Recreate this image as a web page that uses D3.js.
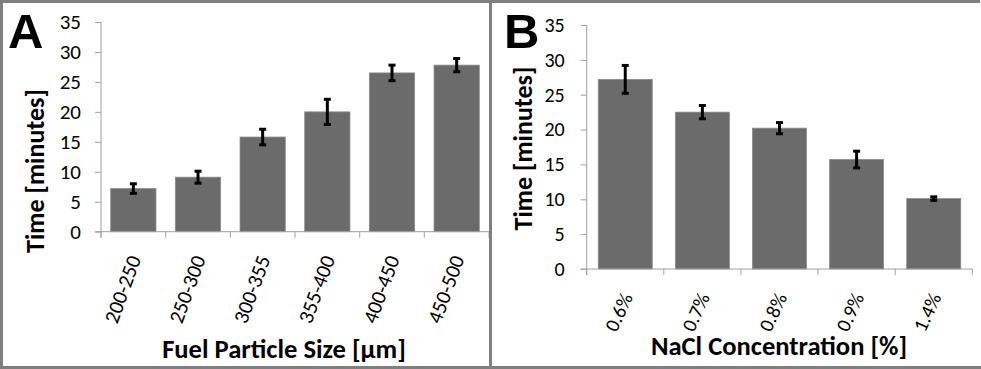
<!DOCTYPE html>
<html>
<head>
<meta charset="utf-8">
<script src="https://cdn.jsdelivr.net/npm/d3@7"></script>
<style>
  body { margin: 0; background: #fff; }
  svg { display: block; }
</style>
</head>
<body>
<div id="chart"></div>
<script>
// panel A: fuel particle size
var sizeCats = ["200-250", "250-300", "300-355", "355-400", "400-450", "450-500"];
var sizeTimes = [7.2, 9.1, 15.8, 20.0, 26.5, 27.8];
var sizeErrs = [0.8, 1.0, 1.3, 2.1, 1.3, 1.1];

// panel B: NaCl concentration
var naclCats = ["0.6%", "0.7%", "0.8%", "0.9%", "1.4%"];
var naclTimes = [27.2, 22.5, 20.2, 15.7, 10.1];
var naclErrs = [2.0, 0.95, 0.8, 1.2, 0.25];

var yTicks = [0, 5, 10, 15, 20, 25, 30, 35];

var width = 981, height = 369;
var axisColor = "#a0a0a0";
var font = "Carlito, Calibri, 'Open Sans', sans-serif";

var svg = d3.select("#chart").append("svg")
  .attr("width", width)
  .attr("height", height);

function drawPanel(p) {
  var g = svg.append("g");

  var x = d3.scaleBand()
    .domain(p.cats)
    .range([p.left, p.right])
    .paddingInner(0.3)
    .paddingOuter(0.15);

  var y = d3.scaleLinear()
    .domain([0, 35])
    .range([p.bottom, p.top]);

  // bars
  g.selectAll("rect.bar").data(p.vals).enter()
    .append("rect")
      .attr("class", "bar")
      .attr("x", function(d, i) { return x(p.cats[i]); })
      .attr("y", function(d) { return y(d); })
      .attr("width", x.bandwidth())
      .attr("height", function(d) { return y(0) - y(d); })
      .attr("fill", "#6b6b6b")
      .attr("stroke", "#8a8a8a")
      .attr("stroke-width", 0.8);

  // y axis
  var yAxis = d3.axisLeft(y).tickValues(yTicks).tickSize(6).tickPadding(p.tickPad);
  var ya = g.append("g").attr("transform", "translate(" + p.left + ",0)").call(yAxis);
  ya.select(".domain").remove();
  ya.selectAll(".tick line").attr("stroke", axisColor);
  ya.selectAll(".tick text")
    .attr("fill", "#000")
    .style("font-family", font)
    .style("font-size", p.tickSize + "px");
  g.append("line")
    .attr("x1", p.left).attr("x2", p.left)
    .attr("y1", p.top).attr("y2", p.bottom + 6)
    .attr("stroke", axisColor);

  // x axis: line with ticks on the band edges
  g.append("line")
    .attr("x1", p.left - 6).attr("x2", p.right)
    .attr("y1", p.bottom).attr("y2", p.bottom)
    .attr("stroke", axisColor);
  var edges = p.cats.map(function(c) { return x(c) - x.step() * x.paddingOuter(); });
  edges.push(p.right);
  g.selectAll("line.xtick").data(edges).enter()
    .append("line")
      .attr("class", "xtick")
      .attr("x1", function(d) { return d; })
      .attr("x2", function(d) { return d; })
      .attr("y1", p.bottom)
      .attr("y2", p.bottom + 6)
      .attr("stroke", axisColor);

  // rotated category labels
  g.selectAll("text.xlab").data(p.cats).enter()
    .append("text")
      .attr("class", "xlab")
      .attr("text-anchor", "end")
      .attr("transform", function(d) {
        return "translate(" + (x(d) + x.bandwidth() / 2 + p.labDx) + "," + (p.bottom + p.labDy) + ") rotate(" + p.labRot + ")";
      })
      .style("font-family", font)
      .style("font-size", p.tickSize + "px")
      .attr("fill", "#000")
      .text(function(d) { return d; });

  // error bars
  var cap = 3.5;
  var eb = g.selectAll("g.err").data(p.vals).enter()
    .append("g")
      .attr("class", "err")
      .attr("stroke", "#000")
      .attr("stroke-width", 3);
  eb.append("line")
    .attr("x1", function(d, i) { return x(p.cats[i]) + x.bandwidth() / 2; })
    .attr("x2", function(d, i) { return x(p.cats[i]) + x.bandwidth() / 2; })
    .attr("y1", function(d, i) { return y(d + p.errs[i]); })
    .attr("y2", function(d, i) { return y(d - p.errs[i]); });
  eb.append("line")
    .attr("x1", function(d, i) { return x(p.cats[i]) + x.bandwidth() / 2 - cap; })
    .attr("x2", function(d, i) { return x(p.cats[i]) + x.bandwidth() / 2 + cap; })
    .attr("y1", function(d, i) { return y(d + p.errs[i]); })
    .attr("y2", function(d, i) { return y(d + p.errs[i]); });
  eb.append("line")
    .attr("x1", function(d, i) { return x(p.cats[i]) + x.bandwidth() / 2 - cap; })
    .attr("x2", function(d, i) { return x(p.cats[i]) + x.bandwidth() / 2 + cap; })
    .attr("y1", function(d, i) { return y(d - p.errs[i]); })
    .attr("y2", function(d, i) { return y(d - p.errs[i]); });

  // axis titles
  g.append("text")
    .attr("transform", "translate(" + p.yTitleX + "," + p.yTitleY + ") rotate(-90)")
    .attr("text-anchor", "middle")
    .style("font-family", font)
    .style("font-weight", "bold")
    .style("font-size", "26px")
    .text("Time [minutes]");
  g.append("text")
    .attr("x", p.xTitleX)
    .attr("y", p.xTitleY)
    .attr("text-anchor", "middle")
    .style("font-family", font)
    .style("font-weight", "bold")
    .style("font-size", "26.6px")
    .text(p.xTitle);

  // panel letter
  g.append("text")
    .attr("x", p.letterX)
    .attr("y", 48)
    .style("font-family", "'Liberation Sans', Arial, sans-serif")
    .style("font-weight", "bold")
    .style("font-size", "49px")
    .text(p.letter);
}

drawPanel({
  cats: sizeCats, vals: sizeTimes, errs: sizeErrs,
  left: 101, right: 489, top: 22, bottom: 231.7,
  tickSize: 21, tickPad: 14,
  labDx: 8, labDy: 27, labRot: -70,
  yTitleX: 44, yTitleY: 171, xTitleX: 284, xTitleY: 358,
  xTitle: "Fuel Particle Size [µm]", letter: "A", letterX: 8
});

drawPanel({
  cats: naclCats, vals: naclTimes, errs: naclErrs,
  left: 586.7, right: 972.3, top: 25, bottom: 269,
  tickSize: 20, tickPad: 16,
  labDx: 8, labDy: 28, labRot: -65,
  yTitleX: 532, yTitleY: 148.5, xTitleX: 779, xTitleY: 355,
  xTitle: "NaCl Concentration [%]", letter: "B", letterX: 504
});

// panel frames
svg.append("path")
  .attr("d", "M1.5,369 V1.5 H980 M490.5,1.5 V369 M0,367.5 H981")
  .attr("fill", "none")
  .attr("stroke", "#7f7f7f")
  .attr("stroke-width", 3);
</script>
</body>
</html>
